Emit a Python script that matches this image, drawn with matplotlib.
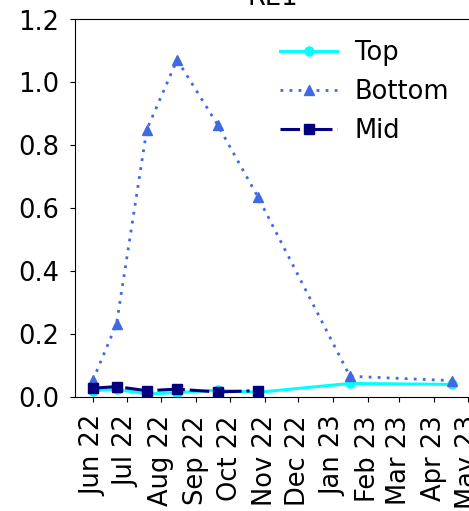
import matplotlib
matplotlib.use("Agg")
import matplotlib.pyplot as plt
import matplotlib.dates as mdates
import numpy as np

# Sampling dates and measured values per depth
top_dates = ["2022-06-01", "2022-06-22", "2022-07-19", "2022-08-15", "2022-09-20",
             "2022-10-26", "2023-01-16", "2023-04-17"]
top_values = [0.020, 0.024, 0.010, 0.014, 0.022, 0.015, 0.043, 0.040]

bottom_dates = ["2022-06-01", "2022-06-22", "2022-07-19", "2022-08-15", "2022-09-20",
                "2022-10-26", "2023-01-16", "2023-04-17"]
bottom_values = [0.054, 0.232, 0.850, 1.072, 0.866, 0.636, 0.066, 0.052]

mid_dates = ["2022-06-01", "2022-06-22", "2022-07-19", "2022-08-15", "2022-09-20",
             "2022-10-26"]
mid_values = [0.028, 0.033, 0.020, 0.025, 0.016, 0.020]

title = "RE1"
y_ticks = [0.0, 0.2, 0.4, 0.6, 0.8, 1.0, 1.2]

plt.rcParams["font.family"] = "DejaVu Sans"
fs = 18.5

fig = plt.figure(figsize=(4.69, 5.11), dpi=100)
ax = fig.add_axes([75 / 469, 114 / 511, 395 / 469, (397 - 19.5) / 511])

ax.plot(np.array(top_dates, dtype="datetime64[D]"), top_values, color="cyan",
        linestyle="-", marker="o", markersize=6.5, linewidth=2.2, label="Top")
ax.plot(np.array(bottom_dates, dtype="datetime64[D]"), bottom_values, color="royalblue",
        linestyle=(0, (1, 2.25)), marker="^", markersize=7.5, linewidth=2, label="Bottom")
ax.plot(np.array(mid_dates, dtype="datetime64[D]"), mid_values, color="navy",
        linestyle="-.", marker="s", markersize=7, linewidth=2.2, label="Mid")

ax.set_ylim(0, 1.2)
ax.set_yticks(y_ticks)
ax.set_yticklabels([f"{v:.1f}" for v in y_ticks], fontsize=fs)

ax.xaxis.set_major_locator(mdates.MonthLocator())
ax.xaxis.set_major_formatter(mdates.DateFormatter("%b %y"))
plt.setp(ax.get_xticklabels(), rotation=90, fontsize=fs)
ax.tick_params(axis="x", pad=9.5)
ax.tick_params(axis="y", pad=8)

ax.set_title(title, fontsize=fs, pad=10.5)
ax.legend(loc="upper right", frameon=False, fontsize=fs, handlelength=2.2,
          handletextpad=0.7, borderaxespad=0.4, labelspacing=0.5)

fig.savefig("out.png", dpi=100)
